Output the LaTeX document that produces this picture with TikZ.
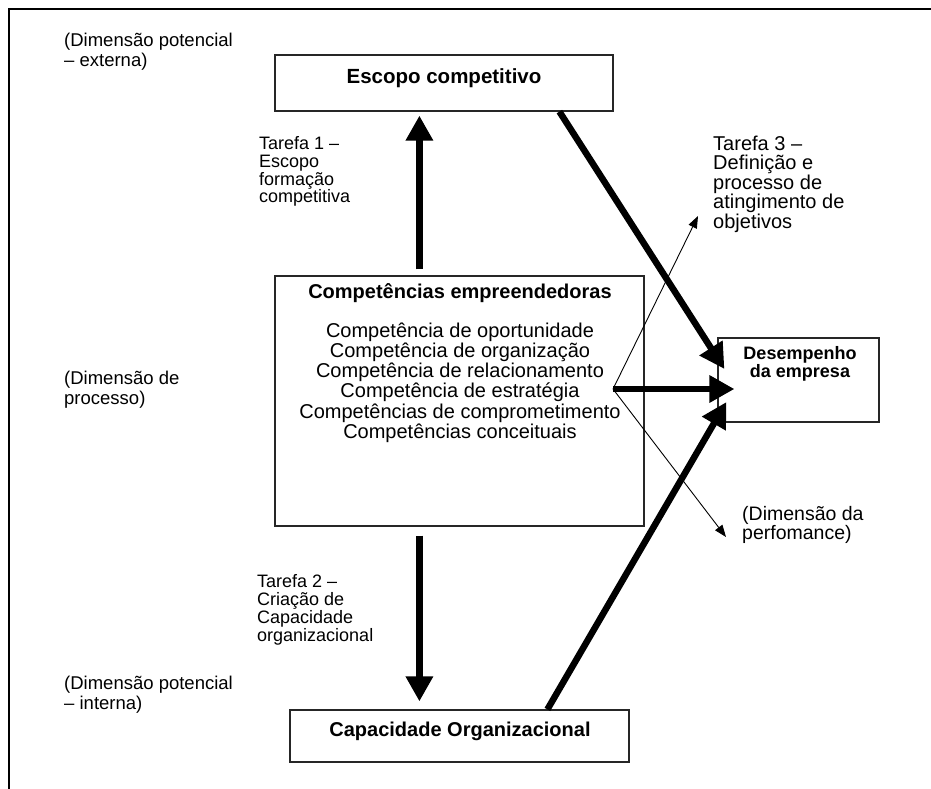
\documentclass[tikz,border=0pt]{standalone}
\usepackage{fontspec}
\setmainfont{Liberation Sans}
\usetikzlibrary{arrows.meta,calc}
\begin{document}
\begin{tikzpicture}[x=1pt,y=-1pt,
  box/.style={draw=black!85,line width=1.2pt,inner sep=0pt},
  ltxt/.style={inner sep=0pt,align=left,anchor=west},
  ctxt/.style={inner sep=0pt,align=center},
  bigarrow/.style={arrows={-Triangle[length=25pt,width=26pt]},line width=6.5pt},
  thinarrow/.style={arrows={-Triangle[length=12pt,width=9pt]},line width=0.9pt},
  labfont/.style={font=\fontsize{18.5}{20}\selectfont},
  taskfont/.style={font=\fontsize{18}{17.8}\selectfont},
]
\useasboundingbox (0,0) rectangle (931,789);
\fill[white] (0,0) rectangle (931,789);
% frame (top and left edges)
\draw[line width=2.5pt] (9,789) -- (9,9) -- (931,9);

% boxes
\node[box,minimum width=338pt,minimum height=56pt] (escopo) at (444,83) {};
\node[ctxt,font=\bfseries\fontsize{20.5}{24}\selectfont] (escopoT) at (444,78) {Escopo competitivo};

\node[box,minimum width=369pt,minimum height=250pt] (comp) at (459.5,401) {};
\node[ctxt,font=\bfseries\fontsize{20}{24}\selectfont] (compT) at (460,293) {Competências empreendedoras};
\node[ctxt,font=\fontsize{20}{20.2}\selectfont] (compL) at (460,382.5) {Competência de oportunidade\\Competência de organização\\Competência de relacionamento\\Competência de estratégia\\Competências de comprometimento\\Competências conceituais};

\node[box,minimum width=339pt,minimum height=52pt] (cap) at (459.5,736) {};
\node[ctxt,font=\bfseries\fontsize{20}{24}\selectfont] (capT) at (460,731) {Capacidade Organizacional};

\node[box,minimum width=161pt,minimum height=84pt] (desemp) at (798.5,380) {};
\node[ctxt,font=\bfseries\fontsize{18}{18}\selectfont] (desempT) at (800,364) {Desempenho\\da empresa};

% side labels
\node[ltxt,labfont] (dimExt) at (64,52) {(Dimensão potencial\\– externa)};
\node[ltxt,labfont] (dimProc) at (64,390) {(Dimensão de\\processo)};
\node[ltxt,labfont] (dimInt) at (64,694.5) {(Dimensão potencial\\– interna)};

\node[ltxt,taskfont] (t1) at (259,171.5) {Tarefa 1 –\\Escopo\\formação\\competitiva};
\node[ltxt,taskfont] (t2) at (257,610) {Tarefa 2 –\\Criação de\\Capacidade\\organizacional};
\node[ltxt,font=\fontsize{20}{19.5}\selectfont] (t3) at (713,184) {Tarefa 3 –\\Definição e\\processo de\\atingimento de\\objetivos};
\node[ltxt,font=\fontsize{19.5}{19}\selectfont] (perf) at (742,524.5) {(Dimensão da\\perfomance)};

% connectors
\draw[bigarrow] ($(comp.north west)+(145,-6)$) -- ($(escopo.south west)+(145,4)$);
\draw[bigarrow] ($(comp.south west)+(145,9)$) -- ($(cap.north west)+(130,-8)$);
\draw[bigarrow] ($(escopo.south west)+(285,0)$) -- ($(desemp.west)+(7,-11)$);
\coordinate (hub) at (613,389);
\draw[bigarrow] (hub) -- ($(desemp.west)+(17,9)$);
\draw[bigarrow] ($(cap.north west)+(258,0)$) -- ($(desemp.west)+(9,22)$);
\coordinate (t3tip) at (698,216);
\coordinate (perftip) at (726,537);
\draw[thinarrow] (hub) -- (t3tip);
\draw[thinarrow] (hub) -- (perftip);
\end{tikzpicture}
\end{document}
